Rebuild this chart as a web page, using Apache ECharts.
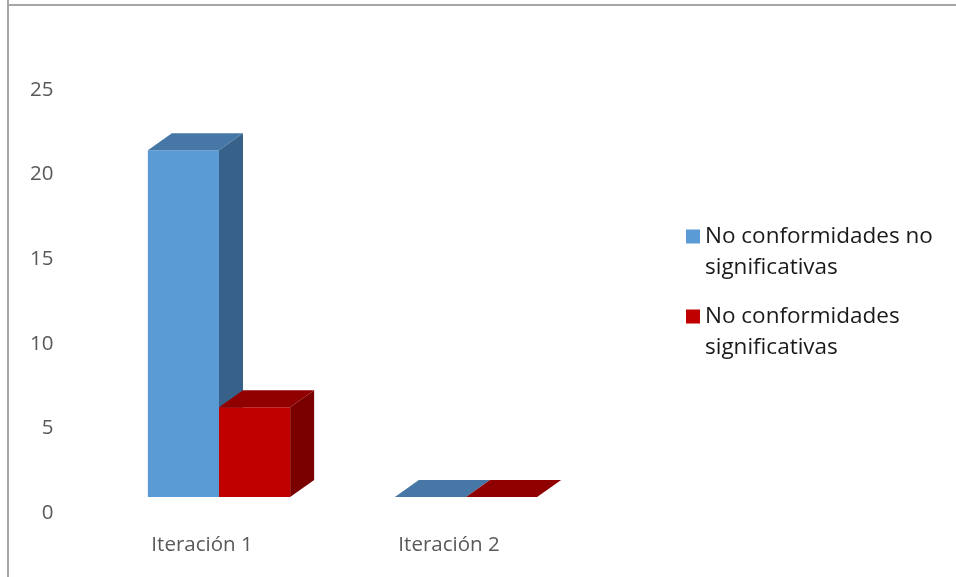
<!DOCTYPE html>
<html>
<head>
<meta charset="utf-8">
<script src="https://cdn.jsdelivr.net/npm/echarts@6/dist/echarts.min.js"></script>
<style>
  html, body { margin: 0; padding: 0; background: #fff; }
  #chart { width: 956px; height: 577px; }
</style>
</head>
<body>
<div id="chart"></div>
<script>
// datos
var categorias = ['Iteración 1', 'Iteración 2'];
var noSignificativas = [20.5, 0];
var significativas = [5.3, 0];
var yTicks = [0, 5, 10, 15, 20, 25];

var FONT = '"Open Sans", "Noto Sans", sans-serif';

// colores de cada cara: frente, tapa, lateral
var caras = [
  { front: '#5b9bd5', top: '#4677a6', side: '#386189' },
  { front: '#c00000', top: '#900000', side: '#7a0000' }
];

// desplazamiento oblicuo 3D
var floorDx = 17, floorDy = -16;   // posicion de la cara frontal respecto al suelo
var depthDx = 24, depthDy = -17;   // profundidad de la barra

function makeRender(idx) {
  return function (params, api) {
    var cat = api.value(0);
    var val = api.value(1);
    var base = api.coord([cat, 0]);
    var top = api.coord([cat, val]);
    var w = api.size([1, 0])[0] * 0.288;
    var x0 = base[0] + floorDx + (idx === 0 ? -w : 0);
    var x1 = x0 + w;
    var yb = base[1] + floorDy;
    var yt = top[1] + floorDy;
    var c = caras[idx];
    var children = [];
    if (yb - yt > 0.5) {
      children.push({
        type: 'polygon',
        shape: { points: [[x1, yb], [x1 + depthDx, yb + depthDy], [x1 + depthDx, yt + depthDy], [x1, yt]] },
        style: { fill: c.side }
      });
      children.push({
        type: 'rect',
        shape: { x: x0, y: yt, width: w, height: yb - yt },
        style: { fill: c.front }
      });
    }
    children.push({
      type: 'polygon',
      shape: { points: [[x0, yt], [x0 + depthDx, yt + depthDy], [x1 + depthDx, yt + depthDy], [x1, yt]] },
      style: { fill: c.top }
    });
    return { type: 'group', children: children };
  };
}

var chart = echarts.init(document.getElementById('chart'));

var option = {
  backgroundColor: '#fff',
  animation: false,
  graphic: [
    { type: 'line', shape: { x1: 8, y1: 0, x2: 8, y2: 577 }, style: { stroke: '#a6a6a6', lineWidth: 2 } },
    { type: 'line', shape: { x1: 8, y1: 5, x2: 956, y2: 5 }, style: { stroke: '#a6a6a6', lineWidth: 2 } }
  ],
  legend: {
    orient: 'vertical',
    left: 686,
    top: 190,
    padding: 0,
    itemGap: -13,
    itemWidth: 14,
    itemHeight: 14,
    icon: 'rect',
    textStyle: {
      fontFamily: FONT,
      fontSize: 22.5,
      color: '#1a1a1a',
      lineHeight: 31
    },
    // linea vacia arriba para que el cuadrado quede a la altura de la primera linea
    formatter: function (name) {
      if (name === 'No conformidades no significativas') return '\nNo conformidades no\nsignificativas';
      return '\nNo conformidades\nsignificativas';
    },
    data: [
      { name: 'No conformidades no significativas', itemStyle: { color: caras[0].front } },
      { name: 'No conformidades significativas', itemStyle: { color: caras[1].front } }
    ]
  },
  grid: { left: 78.5, right: 383.5, top: 90, bottom: 64 },
  xAxis: {
    type: 'category',
    data: categorias,
    axisLine: { show: false },
    axisTick: { show: false },
    axisLabel: { fontFamily: FONT, fontSize: 20.5, color: '#595959', margin: 22 }
  },
  yAxis: {
    type: 'value',
    min: yTicks[0],
    max: yTicks[yTicks.length - 1],
    interval: 5,
    splitLine: { show: false },
    axisLine: { show: false },
    axisTick: { show: false },
    axisLabel: { fontFamily: FONT, fontSize: 20.5, color: '#595959', margin: 25 }
  },
  series: [
    {
      name: 'No conformidades no significativas',
      type: 'custom',
      itemStyle: { color: caras[0].front },
      renderItem: makeRender(0),
      encode: { x: 0, y: 1 },
      data: categorias.map(function (c, i) { return [i, noSignificativas[i]]; })
    },
    {
      name: 'No conformidades significativas',
      type: 'custom',
      itemStyle: { color: caras[1].front },
      renderItem: makeRender(1),
      encode: { x: 0, y: 1 },
      data: categorias.map(function (c, i) { return [i, significativas[i]]; })
    }
  ]
};

chart.setOption(option);
</script>
</body>
</html>
